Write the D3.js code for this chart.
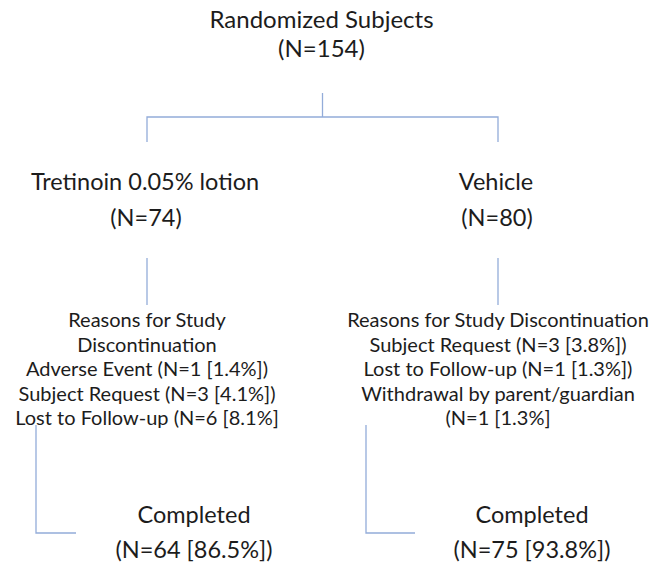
<!DOCTYPE html>
<html>
<head>
<meta charset="utf-8">
<script src="https://cdn.jsdelivr.net/npm/d3@7"></script>
<style>
  body { margin: 0; background: #fff; }
  text { font-family: Lato, "Open Sans", sans-serif; fill: #1c1c1c; }
</style>
</head>
<body>
<script>
var width = 652;
var height = 567;

// flow chart content
var topLabel = ["Randomized Subjects", "(N=154)"];
var armLabels = ["Tretinoin 0.05% lotion", "Vehicle"];
var armCounts = ["(N=74)", "(N=80)"];
var reasonsLeft = ["Reasons for Study", "Discontinuation", "Adverse Event (N=1 [1.4%])",
                   "Subject Request (N=3 [4.1%])", "Lost to Follow-up (N=6 [8.1%]"];
var reasonsRight = ["Reasons for Study Discontinuation", "Subject Request (N=3 [3.8%])",
                    "Lost to Follow-up (N=1 [1.3%])", "Withdrawal by parent/guardian", "(N=1 [1.3%]"];
var completedLabels = ["Completed", "Completed"];
var completedCounts = ["(N=64 [86.5%])", "(N=75 [93.8%])"];

var lineColor = "#93acd9";

var svg = d3.select("body")
  .append("svg")
  .attr("width", width)
  .attr("height", height);

// column positions: 0 = left arm, 1 = right arm, 0.5 = centre
var x = d3.scaleLinear().domain([0, 1]).range([147, 498]);
var xDone = d3.scaleLinear().domain([0, 1]).range([194, 532]);

function textLines(lines, cx, y0, step, size) {
  svg.append("g")
    .selectAll("text")
    .data(lines)
    .enter()
    .append("text")
    .attr("x", cx)
    .attr("y", (d, i) => y0 + i * step)
    .attr("text-anchor", "middle")
    .attr("font-size", size)
    .text(d => d);
}

// top box
textLines(topLabel.slice(0, 1), x(0.5) - 1, 28, 0, 24);
textLines(topLabel.slice(1), x(0.5) - 1, 57, 0, 24);

// connectors
var links = svg.append("g")
  .attr("fill", "none")
  .attr("stroke", lineColor)
  .attr("stroke-width", 1.3);

links.append("path")
  .attr("d", "M" + x(0.5) + ",93V117");
links.append("path")
  .attr("d", "M" + x(0) + ",142V117H" + x(1) + "V142");

[0, 1].forEach(function(i) {
  links.append("path")
    .attr("d", "M" + x(i) + ",258V305");
});

// bottom brackets
var bracketX = [36, 366];
var bracketEnd = [76, 415];
[0, 1].forEach(function(i) {
  links.append("path")
    .attr("d", "M" + bracketX[i] + ",425V533H" + bracketEnd[i]);
});

// arms
[0, 1].forEach(function(i) {
  textLines([armLabels[i]], x(i) - 2, 190, 0, 23.5);
  textLines([armCounts[i]], x(i) - 1, 226, 0, 23.5);
});

// reasons
textLines(reasonsLeft, x(0), 327, 24.5, 20);
textLines(reasonsRight, x(1), 327, 24.5, 20);

// completed
[0, 1].forEach(function(i) {
  textLines([completedLabels[i]], xDone(i), 523, 0, 23.5);
  textLines([completedCounts[i]], xDone(i), 558, 0, 23.5);
});
</script>
</body>
</html>
